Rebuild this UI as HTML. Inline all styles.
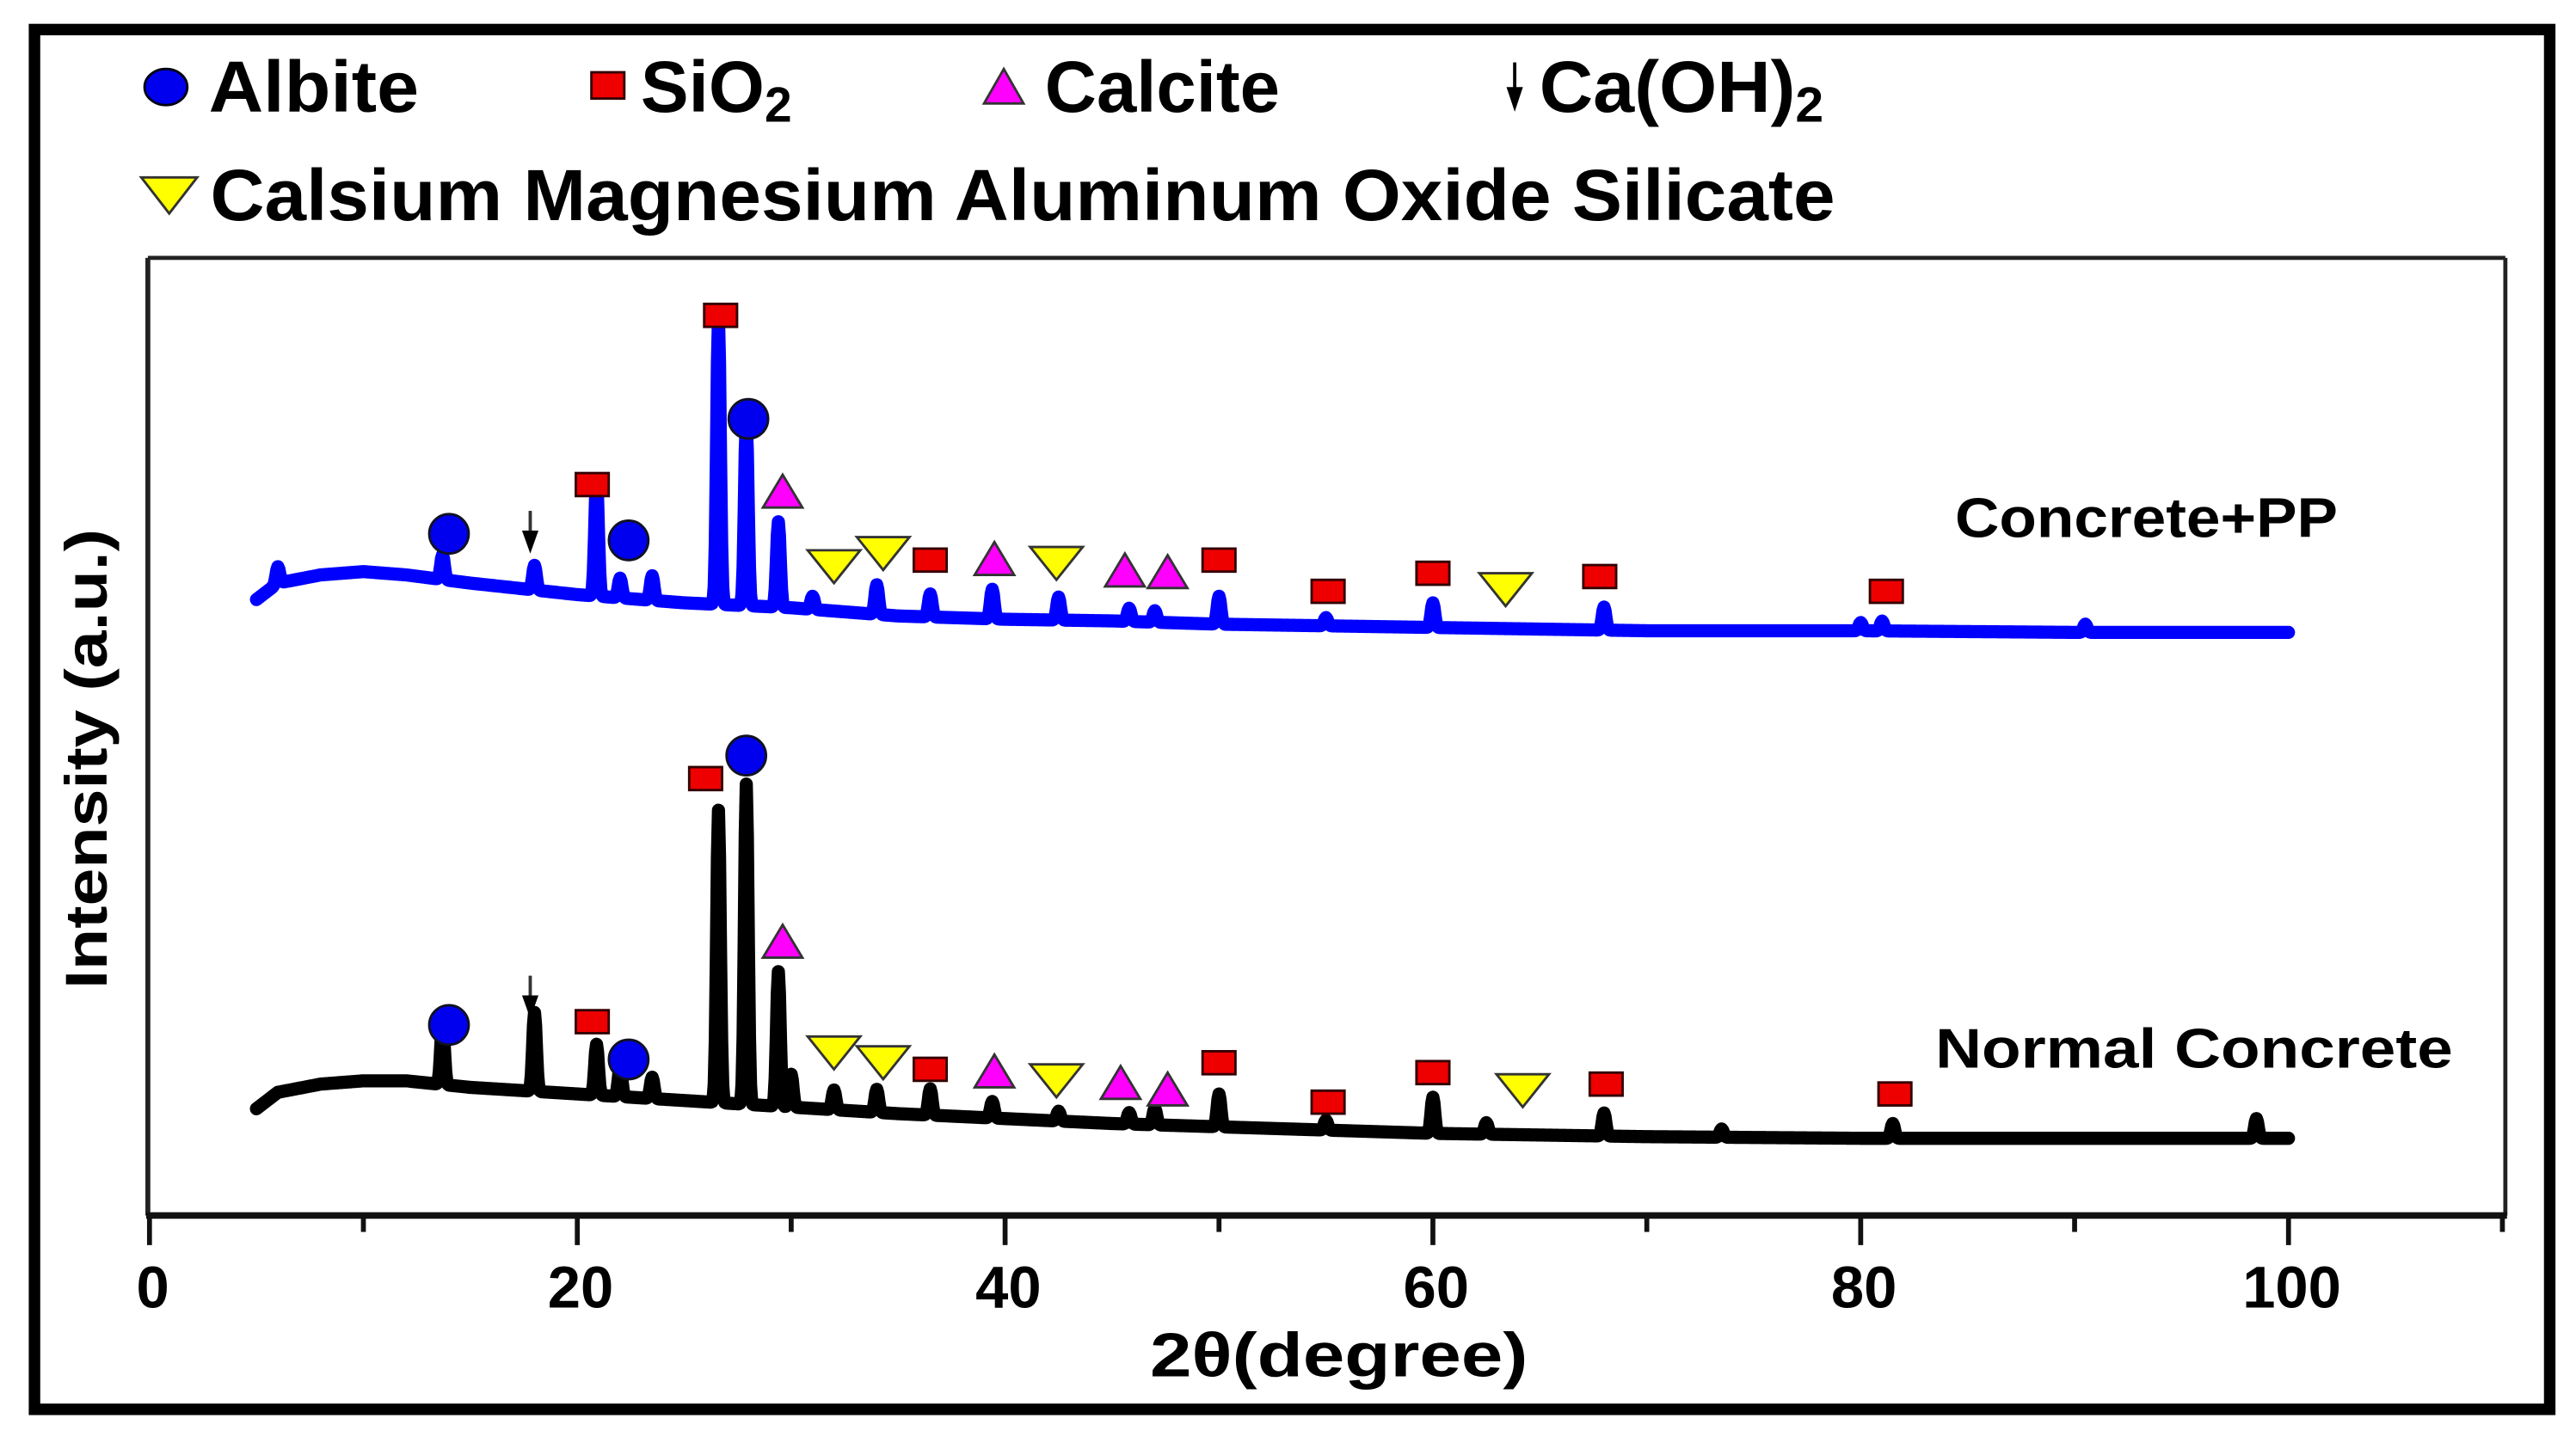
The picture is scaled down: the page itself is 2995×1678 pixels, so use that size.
<!DOCTYPE html>
<html><head><meta charset="utf-8"><style>
html,body{margin:0;padding:0;background:#fff}
svg{display:block}
text{font-family:"Liberation Sans",sans-serif;font-weight:bold}
</style></head><body>
<svg id="chart" width="2995" height="1678" viewBox="0 0 1568 878.5" xmlns="http://www.w3.org/2000/svg">
<rect x="0" y="0" width="1568" height="878.5" fill="#fff"/>
<rect x="21" y="18" width="1531" height="840" fill="none" stroke="#000" stroke-width="7"/>
<g>
 <g><ellipse cx="101" cy="53" rx="13" ry="11" fill="#0000ee" stroke="#001" stroke-width="1.5"/><text x="127" y="68" font-size="44" textLength="128" lengthAdjust="spacingAndGlyphs">Albite</text></g>
 <g><rect x="360" y="44" width="20" height="16" fill="#ee0000" stroke="#300" stroke-width="1.5"/><text x="390" y="68" font-size="44" textLength="92" lengthAdjust="spacingAndGlyphs">SiO<tspan font-size="30" dy="6">2</tspan></text></g>
 <g><polygon points="599,63 623,63 611,42" fill="#ff00ff" stroke="#333" stroke-width="1.5"/><text x="636" y="68" font-size="44" textLength="143" lengthAdjust="spacingAndGlyphs">Calcite</text></g>
 <g><line x1="922" y1="38" x2="922" y2="55" stroke="#000" stroke-width="2"/><polygon points="917,53 927,53 922,68" fill="#000"/><text x="937" y="68" font-size="44" textLength="173" lengthAdjust="spacingAndGlyphs">Ca(OH)<tspan font-size="30" dy="6">2</tspan></text></g>
 <g><polygon points="86,108 120,108 103,130" fill="#ffff00" stroke="#333" stroke-width="1.5"/><text x="128" y="134" font-size="44" textLength="989" lengthAdjust="spacingAndGlyphs">Calsium Magnesium Aluminum Oxide Silicate</text></g>
</g>
<g>
 <line x1="90" y1="157" x2="1525" y2="157" stroke="#222" stroke-width="2.5"/>
 <line x1="90" y1="157" x2="90" y2="740" stroke="#222" stroke-width="3"/>
 <line x1="1525" y1="157" x2="1525" y2="740" stroke="#222" stroke-width="2.5"/>
 <line x1="89" y1="740" x2="1526" y2="740" stroke="#111" stroke-width="4"/>
</g>
<g id="ticks"></g>
<g id="series"></g>
<g id="markers"></g>
<text x="1190" y="327" font-size="34" textLength="233" lengthAdjust="spacingAndGlyphs">Concrete+PP</text>
<text x="1178" y="650" font-size="34" textLength="315" lengthAdjust="spacingAndGlyphs">Normal Concrete</text>
<text x="815" y="838" font-size="38" text-anchor="middle" textLength="230" lengthAdjust="spacingAndGlyphs">2θ(degree)</text>
<text transform="translate(65,462) rotate(-90)" font-size="36" text-anchor="middle" textLength="280" lengthAdjust="spacingAndGlyphs">Intensity (a.u.)</text>
</svg>
<script>
const xTicks=[0,10,20,30,40,50,60,70,80,90,100,110];
const xTickLabels=["0","20","40","60","80","100"];
const xLabelVals=[0,20,40,60,80,100];
const ppBaseX=[5,6,8,10,12,15,20,25,30,35,40,45,50,60,70,80,90,100];
const ppBaseY=[375,385,390,392,390,385,378,373,370,365,363,362,360,358,356,356,355,355];
const ncBaseX=[5,6,8,10,12,15,20,25,30,35,40,45,50,60,70,80,90,100];
const ncBaseY=[65,75,80,82,82,78,74,70,66,62,59,56,54,50,48,47,47,47];
const ppPeakX=[6,13.7,18,20.9,22,23.5,26.6,27.9,29.4,31,34,36.5,39.4,42.5,45.8,47,50,55,60,68,80,81,90.5];
const ppPeakH=[10,15,15,70,12,15,175,112,52,8,18,14,18,14,8,7,17,5,15,14,5,6,5];
const ncPeakX=[13.7,18,20.9,22,23.5,26.6,27.9,29.4,30,32,34,36.5,39.4,42.5,45.8,47,50,55,60,62.5,68,73.5,81.5,98.5];
const ncPeakH=[38,48,31,18,13,178,195,82,20,12,14,16,10,6,7,10,20,6,22,7,14,5,9,12];
const ppAlbite=[[14,415],[22.4,411],[28.0,485]];
const ppSio2=[[26.7,548],[20.7,445],[36.5,399],[50,399],[55.1,380],[60,391],[67.8,389],[81.2,380]];
const ppCalcite=[[29.6,440],[39.5,399],[45.6,392],[47.6,391]];
const ppCmaos=[[32,396],[34.3,404],[42.4,398],[63.4,382]];
const ppArrow=[[17.8,415]];
const ncAlbite=[[14,116],[22.4,95],[27.9,280]];
const ncSio2=[[26,266],[20.7,118],[36.5,89],[50,93],[55.1,69],[60,87],[68.1,80],[81.6,74]];
const ncCalcite=[[29.6,166],[39.5,87],[45.4,80],[47.6,76]];
const ncCmaos=[[32,100],[34.3,94],[42.4,83],[64.2,77]];
const ncArrow=[[17.8,132]];

const NS="http://www.w3.org/2000/svg";
const X=v=>91+v*13.02;
const Y=v=>740-v;
function mk(tag,attrs,parent){const e=document.createElementNS(NS,tag);for(const k in attrs)e.setAttribute(k,attrs[k]);parent.appendChild(e);return e;}
function interp(xs,ys,x){if(x<=xs[0])return ys[0];for(let i=1;i<xs.length;i++){if(x<=xs[i]){const t=(x-xs[i-1])/(xs[i]-xs[i-1]);return ys[i-1]+t*(ys[i]-ys[i-1]);}}return ys[ys.length-1];}
const ticksG=document.getElementById('ticks');
xTicks.forEach(t=>{
 const major=xLabelVals.includes(t);
 const l=mk('line',{x1:X(t),x2:X(t),y1:740,y2:major?758:750,stroke:'#111','stroke-width':3},ticksG);
 
 
});
xLabelVals.forEach((v,i)=>{
 const t=mk('text',{x:X(v)+2,y:796,'font-size':36,'text-anchor':'middle'},ticksG);
 t.textContent=xTickLabels[i];
 
 
});
const seriesG=document.getElementById('series');
function drawSeries(bx,by,px,ph,color,name){
 let d='';
 for(let x=5;x<=100.001;x+=0.05){
  let y=interp(bx,by,x);
  for(let i=0;i<px.length;i++){const dx=(x-px[i])/0.12;y+=ph[i]*Math.exp(-dx*dx);}
  d+=(d?'L':'M')+X(x).toFixed(2)+','+Y(y).toFixed(2);
 }
 const p=mk('path',{d:d,fill:'none',stroke:color,'stroke-width':8,'stroke-linejoin':'round','stroke-linecap':'round'},seriesG);
 
 
}
drawSeries(ppBaseX,ppBaseY,ppPeakX,ppPeakH,'#0000ff','series-concrete-pp');
drawSeries(ncBaseX,ncBaseY,ncPeakX,ncPeakH,'#000000','series-normal-concrete');
const mG=document.getElementById('markers');
function circles(arr,n){arr.forEach(p=>{const e=mk('circle',{cx:X(p[0]),cy:Y(p[1]),r:12,fill:'#0000ee',stroke:'#112',"stroke-width":1.5},mG);
 
 });}
function squares(arr,n){arr.forEach(p=>{const e=mk('rect',{x:X(p[0])-10,y:Y(p[1])-7,width:20,height:14,fill:'#ee0000',stroke:'#300',"stroke-width":1.5},mG);
 
 });}
function tris(arr,n){arr.forEach(p=>{const x=X(p[0]),y=Y(p[1]);const e=mk('polygon',{points:`${x-12},${y+9} ${x+12},${y+9} ${x},${y-11}`,fill:'#ff00ff',stroke:'#333',"stroke-width":1.5},mG);
 
 });}
function dtris(arr,n){arr.forEach(p=>{const x=X(p[0]),y=Y(p[1]);const e=mk('polygon',{points:`${x-16},${y-9} ${x+16},${y-9} ${x},${y+11}`,fill:'#ffff00',stroke:'#333',"stroke-width":1.5},mG);
 
 });}
function arrows(arr,n){arr.forEach(p=>{const x=X(p[0]),y=Y(p[1]);const g=mk('g',{},mG);
 
 
 mk('line',{x1:x,y1:y-14,x2:x,y2:y,stroke:'#333','stroke-width':2},g);mk('polygon',{points:`${x-5},${y-2} ${x+5},${y-2} ${x},${y+12}`,fill:'#000'},g);});}
circles(ppAlbite,'marker-albite-pp');circles(ncAlbite,'marker-albite-nc');
squares(ppSio2,'marker-sio2-pp');squares(ncSio2,'marker-sio2-nc');
tris(ppCalcite,'marker-calcite-pp');tris(ncCalcite,'marker-calcite-nc');
dtris(ppCmaos,'marker-cmaos-pp');dtris(ncCmaos,'marker-cmaos-nc');
arrows(ppArrow,'marker-caoh2-pp');arrows(ncArrow,'marker-caoh2-nc');
</script>
</body></html>
